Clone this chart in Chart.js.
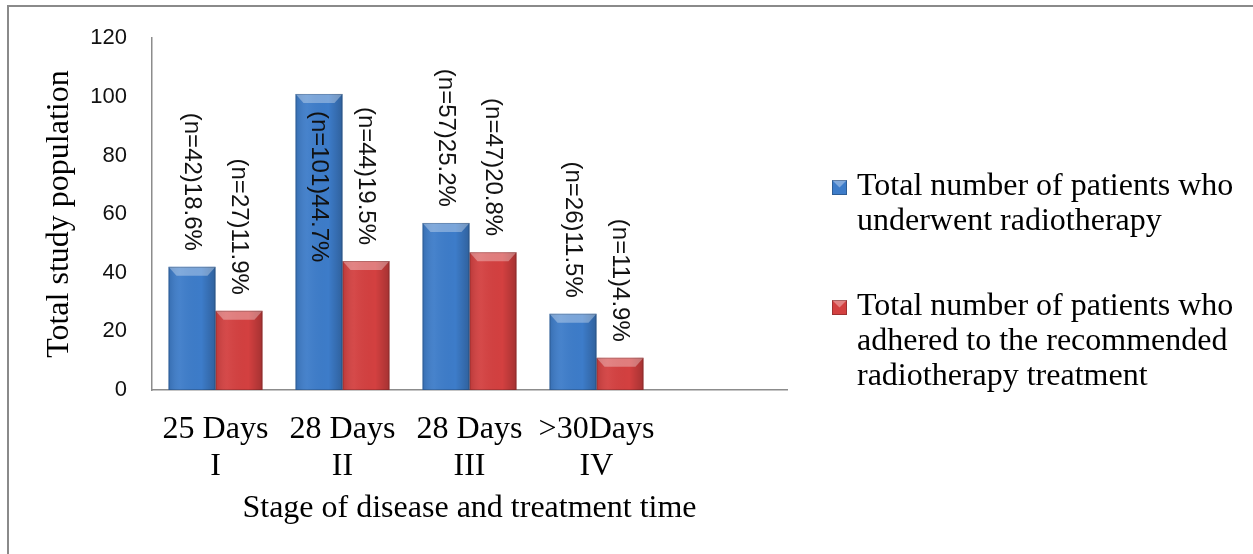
<!DOCTYPE html>
<html>
<head>
<meta charset="utf-8">
<script src="https://cdn.jsdelivr.net/npm/chart.js@4/dist/chart.umd.min.js"></script>
<style>
body { margin: 0; background: #fff; }
#frame { position: absolute; left: 7px; top: 5px; width: 1300px; height: 600px; border: 2px solid #8a8a8a; }
#wrap { position: absolute; left: 0; top: 0; width: 1253px; height: 554px; }
</style>
</head>
<body>
<div id="frame"></div>
<div id="wrap"><canvas id="stage_chart"></canvas></div>
<script>
// data
const categories = [['25 Days', 'I'], ['28 Days', 'II'], ['28 Days', 'III'], ['>30Days', 'IV'], ''];
const underwentCounts = [42, 101, 57, 26];
const underwentPercents = ['18.6', '44.7', '25.2', '11.5'];
const adheredCounts = [27, 44, 47, 11];
const adheredPercents = ['11.9', '19.5', '20.8', '4.9'];
const yTicks = [0, 20, 40, 60, 80, 100, 120];
const underwentLegend = ['Total number of patients who', 'underwent radiotherapy'];
const adheredLegend = ['Total number of patients who', 'adhered to the recommended', 'radiotherapy treatment'];

const serif = '"Liberation Serif", "Times New Roman", serif';
const sans = '"Liberation Sans", Arial, sans-serif';

// shading on top of flat bars: darker sides + light bevel on the top
const bevelPlugin = {
    id: 'bevel',
    afterDatasetsDraw(chart) {
        const ctx = chart.ctx;
        chart.data.datasets.forEach((ds, i) => {
            chart.getDatasetMeta(i).data.forEach(bar => {
                const left = bar.x - bar.width / 2;
                const right = bar.x + bar.width / 2;
                const top = bar.y;
                const bottom = bar.base;
                ctx.save();
                const g = ctx.createLinearGradient(left, 0, right, 0);
                g.addColorStop(0, 'rgba(0,0,0,0.12)');
                g.addColorStop(0.25, 'rgba(255,255,255,0.05)');
                g.addColorStop(0.7, 'rgba(0,0,0,0)');
                g.addColorStop(1, 'rgba(0,0,0,0.22)');
                ctx.fillStyle = g;
                ctx.fillRect(left, top, right - left, bottom - top);
                ctx.beginPath();
                ctx.moveTo(left, top);
                ctx.lineTo(right, top);
                ctx.lineTo(right - 8, top + 9);
                ctx.lineTo(left + 8, top + 9);
                ctx.closePath();
                ctx.fillStyle = 'rgba(255,255,255,0.32)';
                ctx.fill();
                ctx.strokeStyle = 'rgba(0,0,0,0.18)';
                ctx.lineWidth = 1;
                ctx.strokeRect(left + 0.5, top + 0.5, right - left - 1, bottom - top - 1);
                ctx.restore();
            });
        });
    }
};

// rotated "(n=..)..%" labels above the bars, inside when there is no room
const valueLabelPlugin = {
    id: 'valueLabels',
    afterDatasetsDraw(chart) {
        const ctx = chart.ctx;
        ctx.save();
        ctx.font = '24px ' + sans;
        ctx.fillStyle = '#111';
        ctx.textBaseline = 'middle';
        chart.data.datasets.forEach((ds, i) => {
            chart.getDatasetMeta(i).data.forEach((bar, j) => {
                const text = '(n=' + ds.data[j] + ')' + ds.percents[j] + '%';
                const w = ctx.measureText(text).width;
                const inside = bar.y - 16 - w < chart.chartArea.top;
                ctx.save();
                ctx.translate(bar.x, inside ? bar.y + 17 : bar.y - 16);
                ctx.rotate(Math.PI / 2);
                ctx.textAlign = inside ? 'left' : 'right';
                ctx.fillText(text, 0, 0);
                ctx.restore();
            });
        });
        ctx.restore();
    }
};

const drawMarker = function(ctx, x, y, size, color) {
    ctx.fillStyle = color;
    ctx.fillRect(x, y, size, size);
    ctx.beginPath();
    ctx.moveTo(x, y);
    ctx.lineTo(x + size, y);
    ctx.lineTo(x + size / 2, y + size / 2);
    ctx.closePath();
    ctx.fillStyle = 'rgba(255,255,255,0.35)';
    ctx.fill();
    ctx.strokeStyle = 'rgba(0,0,0,0.25)';
    ctx.strokeRect(x + 0.5, y + 0.5, size - 1, size - 1);
};

// legend on the right with wrapped lines
const sideLegendPlugin = {
    id: 'sideLegend',
    afterDraw(chart) {
        const ctx = chart.ctx;
        const firstBaselines = [195, 315];
        ctx.save();
        ctx.font = '32px ' + serif;
        ctx.textBaseline = 'alphabetic';
        ctx.textAlign = 'left';
        chart.data.datasets.forEach((ds, i) => {
            const base = firstBaselines[i];
            drawMarker(ctx, 832, base - 15, 15, ds.backgroundColor);
            ctx.fillStyle = '#000';
            ds.legendLines.forEach((line, k) => {
                ctx.fillText(line, 857, base + k * 35);
            });
        });
        ctx.restore();
    }
};

const createStageChart = function(id) {
    const ctx = document.getElementById(id).getContext('2d');
    return new Chart(ctx, {
        type: 'bar',
        data: {
            labels: categories,
            datasets: [{
                label: underwentLegend.join(' '),
                legendLines: underwentLegend,
                data: underwentCounts,
                percents: underwentPercents,
                backgroundColor: '#3d7cc9',
                categoryPercentage: 0.74,
                barPercentage: 1
            }, {
                label: adheredLegend.join(' '),
                legendLines: adheredLegend,
                data: adheredCounts,
                percents: adheredPercents,
                backgroundColor: '#d34040',
                categoryPercentage: 0.74,
                barPercentage: 1
            }]
        },
        options: {
            responsive: true,
            maintainAspectRatio: false,
            animation: false,
            layout: { padding: { top: 36, right: 466, bottom: 0, left: 0 } },
            plugins: {
                legend: { display: false },
                tooltip: { enabled: false }
            },
            scales: {
                x: {
                    afterFit: function(scale) {
                        scale.height = 164;
                    },
                    grid: { display: false, drawTicks: false },
                    border: { display: true, color: '#8c8c8c', width: 1.5 },
                    ticks: {
                        color: '#000',
                        padding: 21,
                        maxRotation: 0,
                        autoSkip: false,
                        font: { family: serif, size: 32, lineHeight: 1.15 }
                    },
                    title: {
                        display: true,
                        text: 'Stage of disease and treatment time',
                        color: '#000',
                        font: { family: serif, size: 32, lineHeight: 1.2 },
                        padding: { top: 4, bottom: 26 }
                    }
                },
                y: {
                    min: 0,
                    max: 120,
                    afterBuildTicks: function(scale) {
                        scale.ticks = yTicks.map(v => ({ value: v }));
                    },
                    afterFit: function(scale) {
                        scale.width = 152;
                    },
                    grid: { display: false, drawTicks: false },
                    border: { display: true, color: '#8c8c8c', width: 1.5 },
                    ticks: {
                        color: '#111',
                        padding: 25,
                        font: { family: sans, size: 22 }
                    },
                    title: {
                        display: true,
                        text: 'Total study population',
                        color: '#000',
                        font: { family: serif, size: 32, lineHeight: 1.2 },
                        padding: { top: 40, bottom: 0 }
                    }
                }
            }
        },
        plugins: [bevelPlugin, valueLabelPlugin, sideLegendPlugin]
    });
}

createStageChart('stage_chart');
</script>
</body>
</html>
